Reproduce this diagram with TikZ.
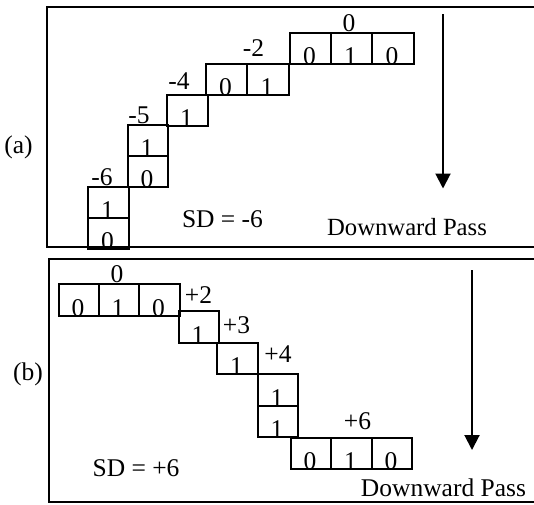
\documentclass[tikz,border=0pt]{standalone}
\usepackage{fontspec}
\setmainfont{Liberation Serif}
\usetikzlibrary{arrows.meta}
\tikzset{
  cellbox/.style={draw, line width=2pt, inner sep=0pt, minimum width=41pt, minimum height=31pt, anchor=north west},
  digit/.style={inner sep=0pt, anchor=base, font=\fontsize{25.5}{25.5}\selectfont},
  lbl/.style={inner sep=0pt, anchor=base, font=\fontsize{25.5}{25.5}\selectfont},
  frame/.style={line width=2pt},
  passarrow/.style={line width=2pt, -{Triangle[width=15pt,length=15pt]}},
}
\newcommand\bitcell[6]{%
  \node[digit] (#1d) at (#2+#4/2,#3+#5+1) {#6};
  \node[cellbox, minimum width=#4pt, minimum height=#5pt] (#1) at (#2,#3) {};
}
\begin{document}
\begin{tikzpicture}[x=1pt,y=-1pt]
\useasboundingbox (0,0) rectangle (534,504);
% frames
\coordinate (fa1) at (536,7);
\coordinate (fa2) at (47,7);
\coordinate (fa3) at (47,247);
\coordinate (fa4) at (536,247);
\draw[frame] (fa1) -- (fa2) -- (fa3) -- (fa4);
\coordinate (fb1) at (536,259);
\coordinate (fb2) at (49,259);
\coordinate (fb3) at (49,502);
\coordinate (fb4) at (536,502);
\draw[frame] (fb1) -- (fb2) -- (fb3) -- (fb4);
\node[lbl] (la) at (18.5,153) {(a)};
\node[lbl] (lb) at (28,380) {(b)};
% (a) cells
\bitcell{a1}{87}{217}{41}{31}{0}
\bitcell{a2}{87}{186}{41}{31}{1}
\bitcell{a3}{127}{155}{40}{31}{0}
\bitcell{a4}{127}{124}{40}{31}{1}
\bitcell{a5}{166}{94}{41}{31}{1}
\bitcell{a6}{205}{63}{41}{31}{0}
\bitcell{a7}{246}{63}{42}{31}{1}
\bitcell{a8}{289}{32}{41}{31}{0}
\bitcell{a9}{330}{32}{41}{31}{1}
\bitcell{a10}{371}{32}{42}{31}{0}
\node[lbl] (sa1) at (102,185.5) {-6};
\node[lbl] (sa2) at (139,123) {-5};
\node[lbl] (sa3) at (179,89) {-4};
\node[lbl] (sa4) at (253.5,56) {-2};
\node[lbl] (sa5) at (349,31.5) {0};
\node[lbl] (sda) at (222.5,227) {SD = -6};
\node[lbl, font=\fontsize{24.7}{24.7}\selectfont] (dpa) at (407,235) {Downward Pass};
\coordinate (arA1) at (443,14);
\coordinate (arA2) at (443,188.5);
\draw[passarrow] (arA1) -- (arA2);
% (b) cells
\bitcell{b1}{58}{283}{40}{32}{0}
\bitcell{b2}{98}{283}{40}{32}{1}
\bitcell{b3}{138}{283}{41}{32}{0}
\bitcell{b4}{178}{310}{40}{32}{1}
\bitcell{b5}{216}{342}{41}{31}{1}
\bitcell{b6}{257}{373}{40}{32}{1}
\bitcell{b7}{257}{405}{40}{31}{1}
\bitcell{b8}{290}{437}{40}{31}{0}
\bitcell{b9}{330}{437}{41}{31}{1}
\bitcell{b10}{371}{437}{40}{31}{0}
\node[lbl] (sb1) at (117,282) {0};
\node[lbl] (sb2) at (198.5,303) {+2};
\node[lbl] (sb3) at (236.5,333) {+3};
\node[lbl] (sb4) at (278,362.5) {+4};
\node[lbl] (sb5) at (357.5,429) {+6};
\node[lbl] (sdb) at (136,476.5) {SD = +6};
\node[lbl] (dpb) at (443.5,496.5) {Downward Pass};
\coordinate (arB1) at (472,270);
\coordinate (arB2) at (472,450);
\draw[passarrow] (arB1) -- (arB2);
\end{tikzpicture}
\end{document}
